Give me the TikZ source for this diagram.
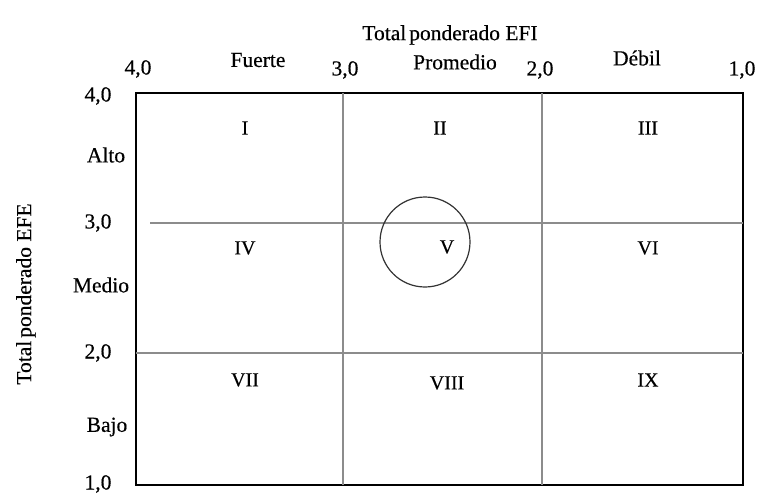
\documentclass[tikz,border=0pt]{standalone}
\usepackage{fontspec}
\setmainfont{Liberation Serif}[FakeBold=0.4]
\begin{document}
\begin{tikzpicture}[x=1pt,y=-1pt,
    lbl/.style={font=\fontsize{21.5}{24}\selectfont, inner sep=0pt},
    cell/.style={font=\fontsize{20}{23}\selectfont, inner sep=0pt},
    divider/.style={draw=black!45, line width=1.2pt}]
  \useasboundingbox (0,0) rectangle (764,501);

  % outer frame
  \coordinate (nw) at (136,93);
  \coordinate (se) at (743,485);
  \draw[line width=2.6pt] (nw) rectangle (se);

  % divisions
  \coordinate (vA) at (343,93);
  \coordinate (vB) at (542,93);
  \draw[divider] (vA) -- (vA |- se);
  \draw[divider] (vB) -- (vB |- se);
  \coordinate (hA) at (150,223);
  \coordinate (hB) at (136,353);
  \draw[divider] (hA) -- (hA -| se);
  \draw[divider] (hB) -- (hB -| se);

  % top axis
  \node[lbl] (efi) at (450,35) {Total\hspace{3pt}ponderado EFI};
  \node[lbl] (x4) at (138,69) {4,0};
  \node[lbl] (fuerte) at (258,60) {Fuerte};
  \node[lbl] (x3) at (345,70) {3,0};
  \node[lbl] (prom) at (455,62) {Promedio};
  \node[lbl] (x2) at (540,70) {2,0};
  \node[lbl] (debil) at (637,58) {Débil};
  \node[lbl] (x1) at (742,70) {1,0};

  % left axis
  \node[lbl, rotate=90] (efe) at (26,294) {Total\hspace{3pt}ponderado EFE};
  \node[lbl] (y4) at (98,96) {4,0};
  \node[lbl] (alto) at (106,155) {Alto};
  \node[lbl] (y3) at (98,223) {3,0};
  \node[lbl] (medio) at (101,285) {Medio};
  \node[lbl] (y2) at (98,353) {2,0};
  \node[lbl] (bajo) at (107,427) {Bajo};
  \node[lbl] (y1) at (98,484) {1,0};

  % cells
  \node[cell] (c1) at (245,128) {I};
  \node[cell] (c2) at (440,128) {II};
  \node[cell] (c3) at (648,128) {III};
  \node[cell] (c4) at (245,248) {IV};
  \node[cell] (c5) at (447,247) {V};
  \node[cell] (c6) at (648,248) {VI};
  \node[cell] (c7) at (245,380) {VII};
  \node[cell] (c8) at (447,383) {VIII};
  \node[cell] (c9) at (648,380) {IX};

  % position of the firm
  \draw[black!80, line width=1.2pt] (425,242) circle (45);
\end{tikzpicture}
\end{document}
